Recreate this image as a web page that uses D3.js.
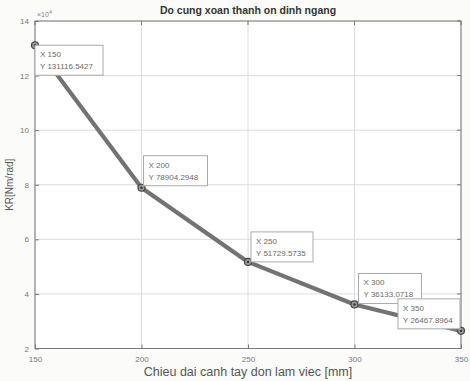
<!DOCTYPE html>
<html><head><meta charset="utf-8">
<script src="https://cdn.jsdelivr.net/npm/d3@7"></script>
<style>body{margin:0;background:#fbfbfa}svg{display:block}</style>
</head><body>
<svg id="c" width="470" height="381"></svg>
<script>
const xValues = [150, 200, 250, 300, 350];
const yValues = [131116.5427, 78904.2948, 51729.5735, 36133.0718, 26467.8964];
const xTicks = [150, 200, 250, 300, 350];
const yTicks = [20000, 40000, 60000, 80000, 100000, 120000, 140000];
const titleText = "Do cung xoan thanh on dinh ngang";
const xLabel = "Chieu dai canh tay don lam viec [mm]";
const yLabel = "KR[Nm/rad]";
// datatip box offsets relative to point (dx, dy)
const tipOffsets = [[0, 0], [2, -32], [3, -30], [4, -31], [-63, -32]];
const tipWidths = [68, 64, 62, 63, 62];

const svg = d3.select("#c");
const L = 35, R = 461, T = 21, B = 348.5;
const x = d3.scaleLinear().domain([150, 350]).range([L, R]);
const y = d3.scaleLinear().domain([20000, 140000]).range([B, T]);
const fontF = "Liberation Sans, Arial, sans-serif";

svg.append("rect").attr("x", L).attr("y", T).attr("width", R - L).attr("height", B - T).attr("fill", "#ffffff");

const g = svg.append("g");
g.selectAll(".gx").data(xTicks).join("line")
  .attr("x1", d => x(d)).attr("x2", d => x(d)).attr("y1", T).attr("y2", B)
  .attr("stroke", "#dcdcdc").attr("stroke-width", 1);
g.selectAll(".gy").data(yTicks).join("line")
  .attr("y1", d => y(d)).attr("y2", d => y(d)).attr("x1", L).attr("x2", R)
  .attr("stroke", "#dcdcdc").attr("stroke-width", 1);

const xAxis = d3.axisBottom(x).tickValues(xTicks).tickSize(-4).tickPadding(8).tickFormat(d3.format("d"));
const yAxis = d3.axisLeft(y).tickValues(yTicks).tickSize(-4).tickPadding(6).tickFormat(d => d / 1e4);
const ax = svg.append("g").attr("transform", `translate(0,${B})`).call(xAxis);
const ay = svg.append("g").attr("transform", `translate(${L},0)`).call(yAxis);
[ax, ay].forEach(a => {
  a.select(".domain").remove();
  a.selectAll("line").attr("stroke", "#777");
  a.selectAll("text").attr("fill", "#777").attr("font-size", 8).attr("font-family", fontF);
});
svg.append("g").selectAll("line").data(xTicks).join("line")
  .attr("x1", d => x(d)).attr("x2", d => x(d)).attr("y1", T).attr("y2", T + 4).attr("stroke", "#777");
svg.append("g").selectAll("line").data(yTicks).join("line")
  .attr("y1", d => y(d)).attr("y2", d => y(d)).attr("x1", R).attr("x2", R - 4).attr("stroke", "#777");

svg.append("rect").attr("x", L).attr("y", T).attr("width", R - L).attr("height", B - T)
  .attr("fill", "none").attr("stroke", "#7a7a7a").attr("stroke-width", 1);

const ex = svg.append("text").attr("x", L + 2).attr("y", T - 4).attr("fill", "#888")
  .attr("font-size", 7).attr("font-family", fontF);
ex.append("tspan").text("\u00d710");
ex.append("tspan").attr("dy", -3).attr("font-size", 5.5).text("4");

const pts = xValues.map((v, i) => [v, yValues[i]]);
svg.append("path").datum(pts)
  .attr("d", d3.line().x(d => x(d[0])).y(d => y(d[1])))
  .attr("fill", "none").attr("stroke", "#737373").attr("stroke-width", 4.2)
  .attr("stroke-linejoin", "round").attr("stroke-linecap", "round");

svg.append("g").selectAll("circle").data(pts).join("circle")
  .attr("cx", d => x(d[0])).attr("cy", d => y(d[1])).attr("r", 3.5)
  .attr("fill", "#9a9a9a").attr("stroke", "#444").attr("stroke-width", 1.2);
svg.append("g").selectAll("circle").data(pts).join("circle")
  .attr("cx", d => x(d[0])).attr("cy", d => y(d[1])).attr("r", 1.2)
  .attr("fill", "#333");

const tips = svg.append("g").selectAll("g").data(pts).join("g")
  .attr("transform", (d, i) => `translate(${x(d[0]) + tipOffsets[i][0]},${y(d[1]) + tipOffsets[i][1]})`);
tips.append("rect").attr("width", (d, i) => tipWidths[i]).attr("height", 30)
  .attr("fill", "#ffffff").attr("stroke", "#aaa").attr("stroke-width", 1);
tips.append("text").attr("x", 5).attr("y", 12).attr("fill", "#6a6a6a").attr("font-size", 8)
  .attr("font-family", fontF).text(d => "X " + d[0]);
tips.append("text").attr("x", 5).attr("y", 24).attr("fill", "#6a6a6a").attr("font-size", 8)
  .attr("font-family", fontF).text(d => "Y " + d[1].toFixed(4));

svg.append("text").attr("x", (L + R) / 2).attr("y", 14).attr("text-anchor", "middle")
  .attr("font-size", 10.5).attr("font-weight", "bold").attr("fill", "#333")
  .attr("font-family", fontF).text(titleText);
svg.append("text").attr("x", (L + R) / 2).attr("y", 376).attr("text-anchor", "middle")
  .attr("font-size", 12.5).attr("fill", "#555").attr("font-family", fontF).text(xLabel);
svg.append("text").attr("transform", `translate(13,${(T + B) / 2}) rotate(-90)`)
  .attr("text-anchor", "middle").attr("font-size", 10).attr("fill", "#555")
  .attr("font-family", fontF).text(yLabel);
</script>
</body></html>
